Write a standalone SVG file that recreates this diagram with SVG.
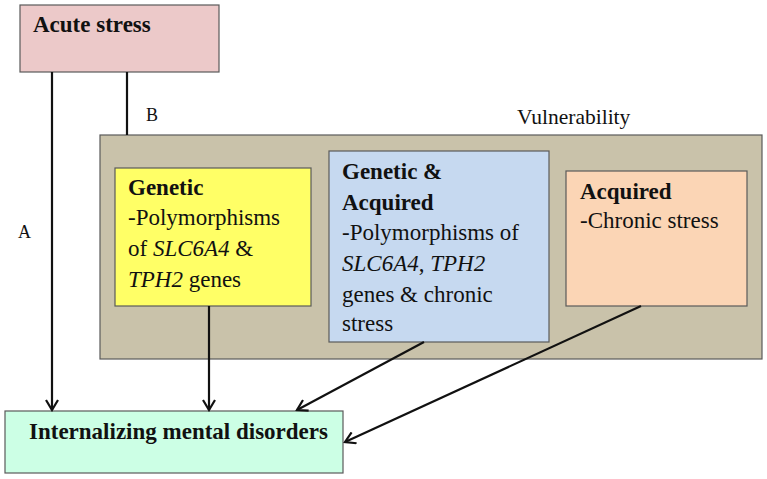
<svg xmlns="http://www.w3.org/2000/svg" width="767" height="479" viewBox="0 0 767 479">
<defs>
<style>
.box{stroke:#5a5a5a;stroke-width:1.2}
.t{font-family:"Liberation Serif","Times New Roman",serif;font-size:23px;fill:#111}
.b{font-weight:bold}
.i{font-style:italic}
.s{font-size:18px}
.v{font-size:21.5px}
.c{stroke:#111;stroke-width:2.2;fill:none}
</style>
<marker id="ah" markerWidth="14" markerHeight="14" refX="12" refY="7" orient="auto" markerUnits="userSpaceOnUse">
<polyline points="2,1 12,7 2,13" fill="none" stroke="#111" stroke-width="2.2"/>
</marker>
</defs>
<rect width="767" height="479" fill="#fff"/>
<g id="vulnerability">
<rect class="box" x="100" y="135" width="662" height="224" fill="#c9c2aa"/>
<text class="t v" x="517" y="124">Vulnerability</text>
</g>
<g id="acute">
<rect class="box" x="20" y="5" width="199" height="67" fill="#ecc9c9"/>
<text class="t b" x="33" y="32">Acute stress</text>
</g>
<g id="genetic">
<rect class="box" x="115" y="168" width="196" height="138" fill="#ffff66"/>
<text class="t" x="128" y="195"><tspan class="b">Genetic</tspan><tspan x="128" dy="30">-Polymorphisms</tspan><tspan x="128" dy="31">of <tspan class="i">SLC6A4</tspan> &amp;</tspan><tspan x="128" dy="31"><tspan class="i">TPH2</tspan> genes</tspan></text>
</g>
<g id="genetic-acquired">
<rect class="box" x="329" y="151" width="220" height="191" fill="#c6d9f0"/>
<text class="t" x="342" y="179"><tspan class="b">Genetic &amp;</tspan><tspan class="b" x="342" dy="31">Acquired</tspan><tspan x="342" dy="30">-Polymorphisms of</tspan><tspan x="342" dy="31"><tspan class="i">SLC6A4</tspan>, <tspan class="i">TPH2</tspan></tspan><tspan x="342" dy="31">genes &amp; chronic</tspan><tspan x="342" dy="29">stress</tspan></text>
</g>
<g id="acquired">
<rect class="box" x="566" y="171" width="181" height="135" fill="#fbd5b5"/>
<text class="t" x="580" y="199"><tspan class="b">Acquired</tspan><tspan x="580" dy="29">-Chronic stress</tspan></text>
</g>
<g id="internalizing">
<rect class="box" x="5" y="411" width="338" height="62" fill="#ccffe5"/>
<text class="t b" x="29" y="439">Internalizing mental disorders</text>
</g>
<g id="connectors">
<line class="c" x1="52" y1="72" x2="52" y2="410" marker-end="url(#ah)"/>
<line class="c" x1="127" y1="72" x2="127" y2="135"/>
<line class="c" x1="209" y1="306" x2="209" y2="410" marker-end="url(#ah)"/>
<line class="c" x1="424" y1="342" x2="297" y2="410" marker-end="url(#ah)"/>
<line class="c" x1="641" y1="306" x2="345" y2="442" marker-end="url(#ah)"/>
<text class="t s" x="146" y="121">B</text>
<text class="t s" x="18" y="238">A</text>
</g>
</svg>
